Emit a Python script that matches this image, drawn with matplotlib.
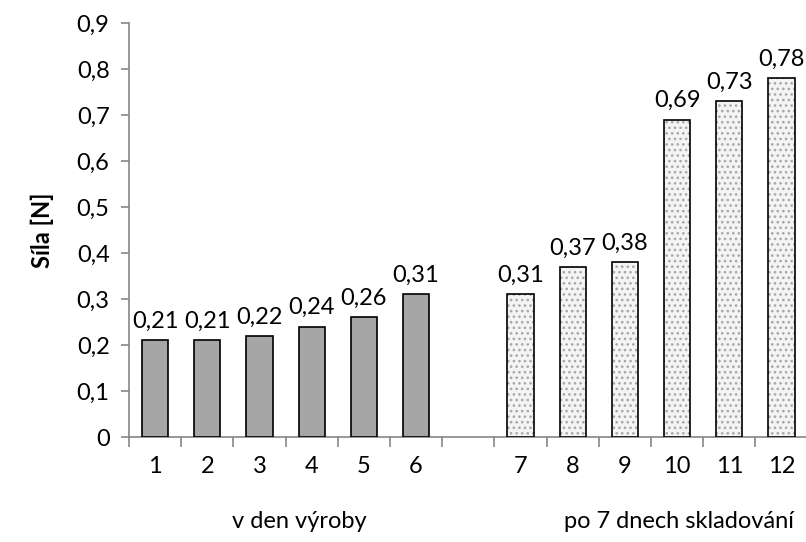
import numpy as np
import matplotlib.pyplot as plt
from matplotlib.ticker import FixedLocator, FuncFormatter

plt.rcParams['font.family'] = ['Lato', 'DejaVu Sans']
plt.rcParams['hatch.linewidth'] = 1.1
plt.rcParams['hatch.color'] = '#a8a8a8'

# measurements
fresh_labels = ['1', '2', '3', '4', '5', '6']
fresh_values = [0.21, 0.21, 0.22, 0.24, 0.26, 0.31]
stored_labels = ['7', '8', '9', '10', '11', '12']
stored_values = [0.31, 0.37, 0.38, 0.69, 0.73, 0.78]
group_names = ['v den výroby', 'po 7 dnech skladování']
y_label = 'Síla [N]'

FS = 17

fig = plt.figure(figsize=(8.06, 5.42), dpi=100)
ax = fig.add_axes([0.160, 0.1937, 0.842, 0.7639])

# one empty slot separates the two groups
x_fresh = np.arange(len(fresh_values)) + 0.5
x_stored = np.arange(len(stored_values)) + len(fresh_values) + 1.5
width = 0.5

ax.bar(x_fresh, fresh_values, width, color='#a6a6a6', edgecolor='black',
       linewidth=1.2, zorder=3)
ax.bar(x_stored, stored_values, width, color='#f4f4f4', edgecolor='#a8a8a8',
       hatch='...', linewidth=0, zorder=3)
ax.bar(x_stored, stored_values, width, fill=False, edgecolor='black',
       linewidth=1.2, zorder=4)

fmt = lambda v: f'{v:.2f}'.replace('.', ',')
for xs, vs in ((x_fresh, fresh_values), (x_stored, stored_values)):
    for x, v in zip(xs, vs):
        ax.annotate(fmt(v), (x, v), xytext=(0, 6), textcoords='offset points',
                    ha='center', va='bottom', fontsize=FS)

ax.set_xlim(0, 13)
ax.set_ylim(0, 0.9)
ax.yaxis.set_major_locator(FixedLocator(np.arange(0, 0.91, 0.1)))
ax.yaxis.set_major_formatter(FuncFormatter(
    lambda v, p: '0' if abs(v) < 1e-9 else f'{v:.1f}'.replace('.', ',')))

ax.set_xticks(np.arange(0, 14))
ax.set_xticklabels([])
ax.set_xticks(np.concatenate([x_fresh, x_stored]), minor=True)
ax.set_xticklabels(fresh_labels + stored_labels, minor=True)
ax.tick_params(axis='x', which='major', length=7, width=1.2, color='#868686',
               direction='out')
ax.tick_params(axis='x', which='minor', length=0, labelsize=FS, pad=14)
ax.tick_params(axis='y', length=6, width=1.2, color='#868686', labelsize=FS,
               pad=8)

for side in ('top', 'right'):
    ax.spines[side].set_visible(False)
for side in ('left', 'bottom'):
    ax.spines[side].set_color('#868686')
    ax.spines[side].set_linewidth(1.2)

ax.set_ylabel(y_label, fontsize=FS, fontweight='bold', labelpad=16)

fig.text(299 / 806, 1 - 522 / 542, group_names[0], ha='center', va='center',
         fontsize=FS)
fig.text(679 / 806, 1 - 522 / 542, group_names[1], ha='center', va='center',
         fontsize=FS)

fig.savefig('out.png', dpi=100)
